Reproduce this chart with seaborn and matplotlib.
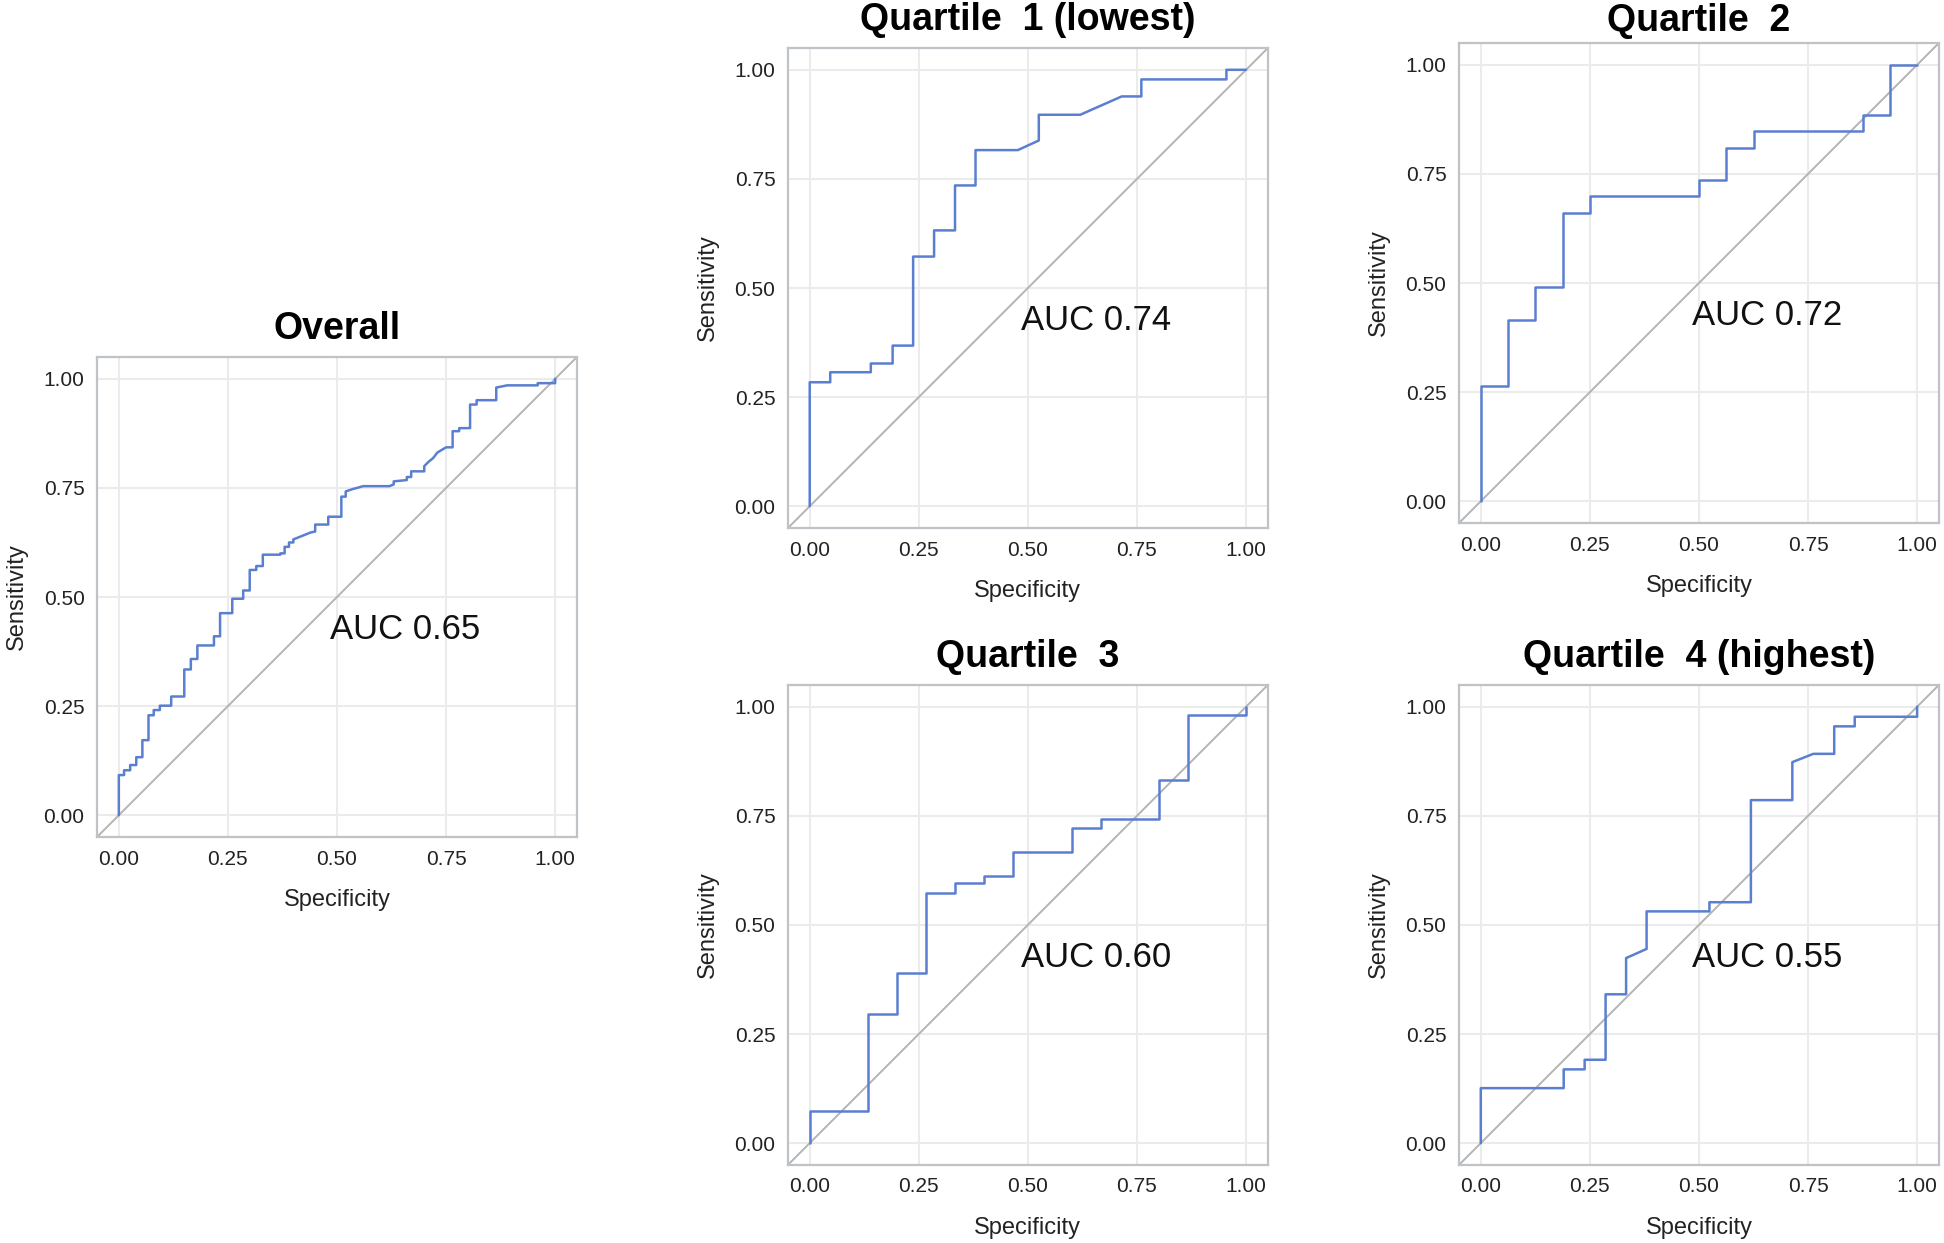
import matplotlib
matplotlib.use("Agg")
import matplotlib.pyplot as plt
import numpy as np
import pandas as pd
import seaborn as sns

# ROC curve vertices (x = Specificity axis, y = Sensitivity)
overall_x = [0, 0, 0.012, 0.012, 0.026, 0.026, 0.04, 0.04, 0.054, 0.054, 0.068, 0.068, 0.08, 0.08,
             0.094, 0.094, 0.12, 0.12, 0.15, 0.15, 0.165, 0.165, 0.18, 0.18, 0.218, 0.218, 0.232, 0.232,
             0.26, 0.26, 0.285, 0.285, 0.30, 0.30, 0.315, 0.315, 0.33, 0.33, 0.37, 0.37, 0.38, 0.38,
             0.39, 0.39, 0.40, 0.40, 0.42, 0.44, 0.45, 0.45, 0.48, 0.48, 0.51, 0.51, 0.52, 0.52,
             0.535, 0.56, 0.62, 0.63, 0.63, 0.66, 0.66, 0.67, 0.67, 0.70, 0.70, 0.71, 0.72, 0.73,
             0.75, 0.765, 0.765, 0.78, 0.78, 0.805, 0.805, 0.82, 0.82, 0.865, 0.865, 0.89, 0.96, 0.96,
             1.0, 1.0]
overall_y = [0, 0.092, 0.092, 0.103, 0.103, 0.115, 0.115, 0.133, 0.133, 0.172, 0.172, 0.229, 0.229, 0.241,
             0.241, 0.251, 0.251, 0.272, 0.272, 0.334, 0.334, 0.358, 0.358, 0.389, 0.389, 0.41, 0.41, 0.463,
             0.463, 0.496, 0.496, 0.515, 0.515, 0.562, 0.562, 0.571, 0.571, 0.597, 0.597, 0.60, 0.60, 0.615,
             0.615, 0.625, 0.625, 0.632, 0.64, 0.648, 0.65, 0.666, 0.666, 0.684, 0.684, 0.73, 0.73, 0.742,
             0.747, 0.754, 0.754, 0.758, 0.765, 0.768, 0.775, 0.775, 0.788, 0.788, 0.80, 0.81, 0.818, 0.831,
             0.843, 0.843, 0.88, 0.88, 0.887, 0.887, 0.941, 0.941, 0.951, 0.951, 0.98, 0.985, 0.985, 0.99,
             0.99, 1.0]

q1_x = [0, 0, 0.047, 0.047, 0.14, 0.14, 0.19, 0.19, 0.237, 0.237, 0.285, 0.285, 0.333, 0.333,
        0.38, 0.38, 0.477, 0.525, 0.525, 0.62, 0.715, 0.76, 0.76, 0.955, 0.955, 1.0]
q1_y = [0, 0.284, 0.284, 0.307, 0.307, 0.327, 0.327, 0.368, 0.368, 0.572, 0.572, 0.632, 0.632, 0.735,
        0.735, 0.816, 0.816, 0.838, 0.897, 0.897, 0.939, 0.939, 0.978, 0.978, 1.0, 1.0]

q2_x = [0, 0, 0.0625, 0.0625, 0.125, 0.125, 0.1875, 0.1875, 0.25, 0.25, 0.5, 0.5, 0.5625, 0.5625,
        0.625, 0.625, 0.875, 0.875, 0.9375, 0.9375, 1.0]
q2_y = [0, 0.263, 0.263, 0.415, 0.415, 0.49, 0.49, 0.66, 0.66, 0.699, 0.699, 0.735, 0.735, 0.81,
        0.81, 0.848, 0.848, 0.885, 0.885, 1.0, 1.0]

q3_x = [0, 0, 0.133, 0.133, 0.2, 0.2, 0.267, 0.267, 0.333, 0.333, 0.4, 0.4, 0.467, 0.467,
        0.6, 0.6, 0.667, 0.667, 0.8, 0.8, 0.867, 0.867, 1.0, 1.0]
q3_y = [0, 0.074, 0.074, 0.297, 0.297, 0.39, 0.39, 0.574, 0.574, 0.595, 0.595, 0.613, 0.613, 0.668,
        0.668, 0.722, 0.722, 0.743, 0.743, 0.833, 0.833, 0.98, 0.98, 1.0]

q4_x = [0, 0, 0.19, 0.19, 0.238, 0.238, 0.286, 0.286, 0.333, 0.333, 0.38, 0.38, 0.524, 0.524,
        0.619, 0.619, 0.714, 0.714, 0.762, 0.81, 0.81, 0.857, 0.857, 1.0, 1.0]
q4_y = [0, 0.126, 0.126, 0.169, 0.169, 0.191, 0.191, 0.341, 0.341, 0.424, 0.445, 0.531, 0.531, 0.552,
        0.552, 0.786, 0.786, 0.873, 0.892, 0.892, 0.955, 0.955, 0.977, 0.977, 1.0]

titles = ["Overall", "Quartile  1 (lowest)", "Quartile  2", "Quartile  3", "Quartile  4 (highest)"]
aucs = [0.65, 0.74, 0.72, 0.60, 0.55]
ticks = [0.0, 0.25, 0.5, 0.75, 1.0]

sns.set_style("white")
plt.rcParams['font.family'] = ['Liberation Sans', 'DejaVu Sans']

LINE = "#5a7fd0"
FRAME = "#bfc3c7"
GRID = "#ebebeb"
DIAG = "#b4b4b4"
TXT = "#222222"

fig = plt.figure(figsize=(19.44, 12.43), dpi=100)

# axes boxes in figure fractions (each 480 x 480 px)
W, H = 0.2469, 0.3862
boxes = [
    [0.0499, 0.3266, W, H],
    [0.4053, 0.5752, W, H],
    [0.7505, 0.5792, W, H],
    [0.4053, 0.0628, W, H],
    [0.7505, 0.0628, W, H],
]
title_pads = [13, 13, 9, 13, 13]
curves = [(overall_x, overall_y), (q1_x, q1_y), (q2_x, q2_y), (q3_x, q3_y), (q4_x, q4_y)]

for box, (cx, cy), title, auc, tpad in zip(boxes, curves, titles, aucs, title_pads):
    ax = fig.add_axes(box)
    lim = (-0.05, 1.05)
    ax.set_xlim(lim)
    ax.set_ylim(lim)

    # grid
    for t in ticks:
        ax.axvline(t, color=GRID, lw=1.5, zorder=0)
        ax.axhline(t, color=GRID, lw=1.5, zorder=0)

    # reference diagonal
    ax.plot(lim, lim, color=DIAG, lw=1.4, zorder=1)

    df = pd.DataFrame({"Specificity": cx, "Sensitivity": cy})
    sns.lineplot(data=df, x="Specificity", y="Sensitivity", sort=False, estimator=None,
                 color=LINE, lw=1.8, ax=ax, zorder=2)

    ax.text(0.485, 0.425, f"AUC {auc:.2f}", fontsize=25, ha="left", va="center", color="#111111")

    ax.set_xticks(ticks)
    ax.set_yticks(ticks)
    ax.set_xticklabels([f"{t:.2f}" for t in ticks])
    ax.set_yticklabels([f"{t:.2f}" for t in ticks])
    ax.tick_params(axis="both", labelsize=15, length=5, width=1.2, color=FRAME,
                   labelcolor=TXT, direction="out", pad=4)
    ax.set_xlabel("Specificity", fontsize=17, color=TXT, labelpad=15)
    ax.set_ylabel("Sensitivity", fontsize=17, color=TXT, labelpad=11)
    ax.set_title(title, fontsize=27, fontweight="bold", pad=tpad, color="#000000")
    for s in ax.spines.values():
        s.set_color(FRAME)
        s.set_linewidth(1.6)
        s.set_visible(True)

fig.savefig("out.png", dpi=100)
